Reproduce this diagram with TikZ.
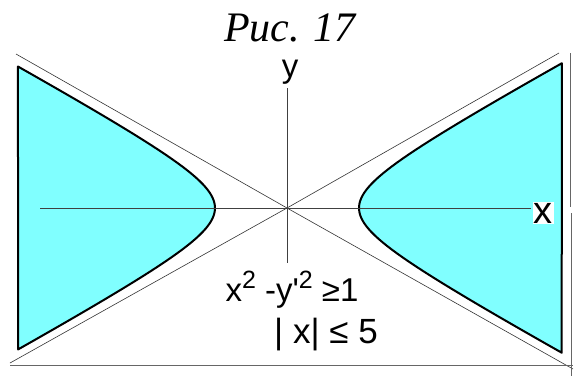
\documentclass[tikz,border=0pt]{standalone}
\usepackage{fontspec}
\setmainfont{Liberation Serif}
\newfontfamily\arialfont{Liberation Sans}
\definecolor{regioncyan}{HTML}{80FFFF}
\newcommand\sqr{\raisebox{0.4em}{\fontsize{25}{28}\selectfont 2}}
\begin{document}
\begin{tikzpicture}[x=1pt,y=-1pt,
  asym/.style={line width=0.6pt,black!80},
  axis/.style={line width=1pt,black!75},
  frameline/.style={line width=1pt,black!60},
  branch/.style={line width=2pt,fill=regioncyan,line join=round},
  lbl/.style={font=\arialfont\fontsize{33}{36}\selectfont,inner sep=1pt}]
 \useasboundingbox (0,0) rectangle (576,376);
 \path 	(287,208) 	coordinate (O)
 	(16,54) 	coordinate (ul)
 	(573,369) 	coordinate (lr)
 	(10,363) 	coordinate (ll)
 	(559,53) 	coordinate (ur)
 	(40,208) 	coordinate (xs)
 	(531,208) 	coordinate (xe)
 	(287,88) 	coordinate (ys)
 	(287,263) 	coordinate (ye);
 % shaded parts
 \draw[branch] plot[domain=-1.993:1.993,samples=60,variable=\t]
   ({287-72*cosh(\t)},{208+39.3*sinh(\t)}) -- cycle;
 \draw[branch] plot[domain=-2.015:2.015,samples=60,variable=\t]
   ({287+72*cosh(\t)},{208+39.3*sinh(\t)}) -- cycle;
 % asymptotes and axes
 \draw[asym] (ul) -- (O) -- (lr);
 \draw[asym] (ll) -- (O) -- (ur);
 \draw[axis] (xs) -- (xe);
 \draw[axis] (ys) -- (ye);
 \draw[frameline] (10,365) -- (573,365);
 \draw[frameline] (570,53) -- (570,207);
 \draw[frameline] (571,213) -- (571,376);
 \path 	(290,28) 	node (title) {\fontsize{42}{48}\selectfont\itshape Рис. 17}
 	(543,213) 	node[lbl,fill=white,font=\arialfont\fontsize{38}{40}\selectfont] (xlab) {x}
 	(290,72) 	node[lbl] (ylab) {y}
 	(292,290) 	node[lbl] (ineq1) {x\sqr{} -y'\sqr{} ≥1}
 	(326,335) 	node[lbl,font=\arialfont\fontsize{35}{38}\selectfont] (ineq2) {| x| ≤ 5};
\end{tikzpicture}
\end{document}
